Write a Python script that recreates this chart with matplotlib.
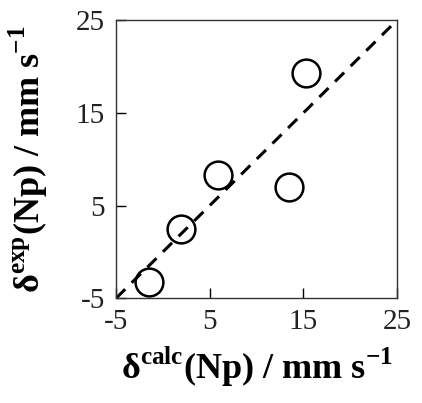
import matplotlib
matplotlib.use('Agg')
import matplotlib.pyplot as plt
from matplotlib import rcParams

# data
delta_calc = [-1.5, 1.9, 5.9, 13.5, 15.3]
delta_exp = [-3.3, 2.5, 8.3, 7.0, 19.3]
ticks = [-5, 5, 15, 25]

rcParams.update({'font.family': 'serif', 'font.serif': ['Liberation Serif'],
                 'mathtext.fontset': 'custom', 'mathtext.rm': 'Liberation Serif',
                 'mathtext.bf': 'Liberation Serif:bold',
                 'axes.unicode_minus': False})

fig = plt.figure(figsize=(4.22, 4.03), dpi=100)
ax = fig.add_axes([0.275, 0.26, 0.666, 0.69])

# y = x reference line
ax.plot([-5, 25], [-5, 25], color='black', linestyle=(0, (4.2, 3)), linewidth=2.2)
ax.plot(delta_calc, delta_exp, 'o', markersize=20, markerfacecolor='none',
        markeredgecolor='black', markeredgewidth=1.8, linestyle='none')

ax.set_xlim(-5, 25)
ax.set_ylim(-5, 25)
ax.set_xticks(ticks)
ax.set_yticks(ticks)
ax.set_xticklabels([str(t) for t in ticks])
ax.set_yticklabels([str(t) for t in ticks])
ax.tick_params(direction='in', length=7, width=1, labelsize=21, pad=8,
               labelcolor='#222222')
for s in ax.spines.values():
    s.set_linewidth(1.0)
    s.set_color('#333333')

ax.set_xlabel(r'δ$^{\mathbf{calc}}$(Np) / mm s$^{\mathbf{-1}}$', fontsize=26, fontweight='bold')
ax.set_ylabel(r'δ$^{\mathbf{exp}}$(Np) / mm s$^{\mathbf{-1}}$', fontsize=26, fontweight='bold')
ax.xaxis.set_label_coords(0.5, -0.165)
ax.yaxis.set_label_coords(-0.235, 0.5)

plt.savefig('out.png', dpi=100)
